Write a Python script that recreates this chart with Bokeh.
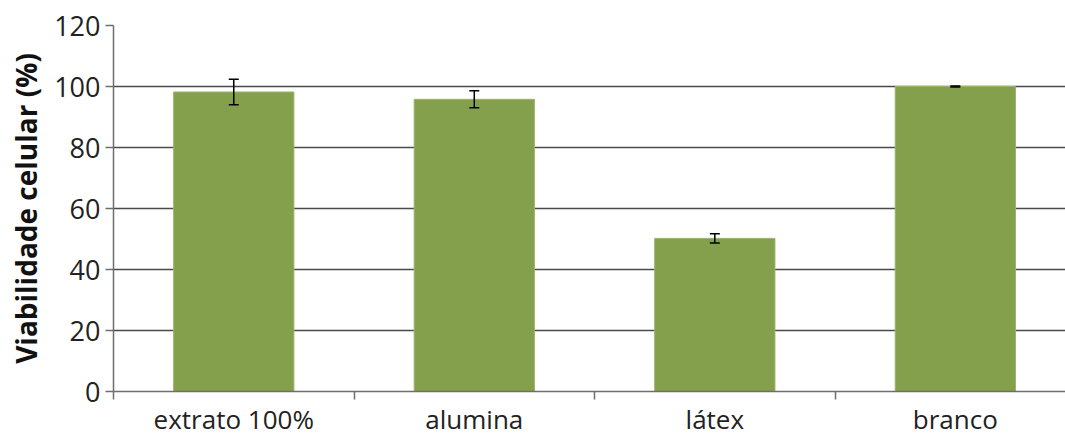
from bokeh.plotting import figure
from bokeh.models import FixedTicker, Range1d, ColumnDataSource, Whisker, TeeHead
from bokeh.embed import file_html
from bokeh.resources import INLINE

categories = ["extrato 100%", "alumina", "látex", "branco"]
values = [98.2, 95.8, 50.2, 100.0]
errors = [4.2, 2.8, 1.5, 0.2]
y_ticks = [0, 20, 40, 60, 80, 100, 120]

xs = [i + 0.5 for i in range(len(categories))]
src = ColumnDataSource(dict(
    x=xs, top=values,
    upper=[v + e for v, e in zip(values, errors)],
    lower=[v - e for v, e in zip(values, errors)],
))

p = figure(width=1065, height=439, output_backend="svg", toolbar_location=None,
           x_range=Range1d(0, 3.958), y_range=Range1d(0, 120),
           min_border_left=113, min_border_right=0, min_border_top=25, min_border_bottom=46)
p.outline_line_color = None
p.background_fill_color = "white"

p.vbar(x="x", top="top", width=0.5, bottom=0, source=src,
       fill_color="#85a04c", line_color="#9ab56a", line_width=1)

w = Whisker(source=src, base="x", upper="upper", lower="lower",
            line_color="black", line_width=1.5, level="overlay",
            upper_head=TeeHead(size=10, line_color="black", line_width=1.5),
            lower_head=TeeHead(size=10, line_color="black", line_width=1.5))
p.add_layout(w)

# y axis
p.yaxis.ticker = FixedTicker(ticks=y_ticks)
p.yaxis.major_tick_out = 8
p.yaxis.major_tick_in = 0
p.yaxis.minor_tick_line_color = None
p.yaxis.axis_line_color = "#6e6e6e"
p.yaxis.axis_line_width = 1.5
p.yaxis.major_tick_line_color = "#6e6e6e"
p.yaxis.major_tick_line_width = 1.5
p.yaxis.major_label_text_font = "Open Sans"
p.yaxis.major_label_text_font_size = "27px"
p.yaxis.major_label_text_color = "#222222"
p.yaxis.axis_label = "Viabilidade celular (%)"
p.yaxis.axis_label_text_font = "Open Sans"
p.yaxis.axis_label_text_font_style = "bold"
p.yaxis.axis_label_text_font_size = "28px"
p.yaxis.axis_label_text_color = "#111111"
p.yaxis.axis_label_standoff = 6

# x axis: labels at centers, ticks at category boundaries
p.xaxis.ticker = FixedTicker(ticks=xs, minor_ticks=[0, 1, 2, 3])
p.xaxis.major_label_overrides = {x: c for x, c in zip(xs, categories)}
p.xaxis.major_label_text_font = "Open Sans"
p.xaxis.major_label_text_font_size = "26px"
p.xaxis.major_label_text_color = "#222222"
p.xaxis.major_label_standoff = 1
p.xaxis.major_tick_out = 0
p.xaxis.major_tick_in = 0
p.xaxis.minor_tick_out = 8
p.xaxis.minor_tick_in = 0
p.xaxis.minor_tick_line_color = "#6e6e6e"
p.xaxis.minor_tick_line_width = 1.5
p.xaxis.axis_line_color = "#6e6e6e"
p.xaxis.axis_line_width = 1.5

p.xgrid.grid_line_color = None
p.ygrid.ticker = FixedTicker(ticks=y_ticks)
p.ygrid.grid_line_color = "#4a4a4a"
p.ygrid.grid_line_width = 1.5
p.ygrid.level = "underlay"

open("out.html", "w").write(file_html(p, INLINE))
